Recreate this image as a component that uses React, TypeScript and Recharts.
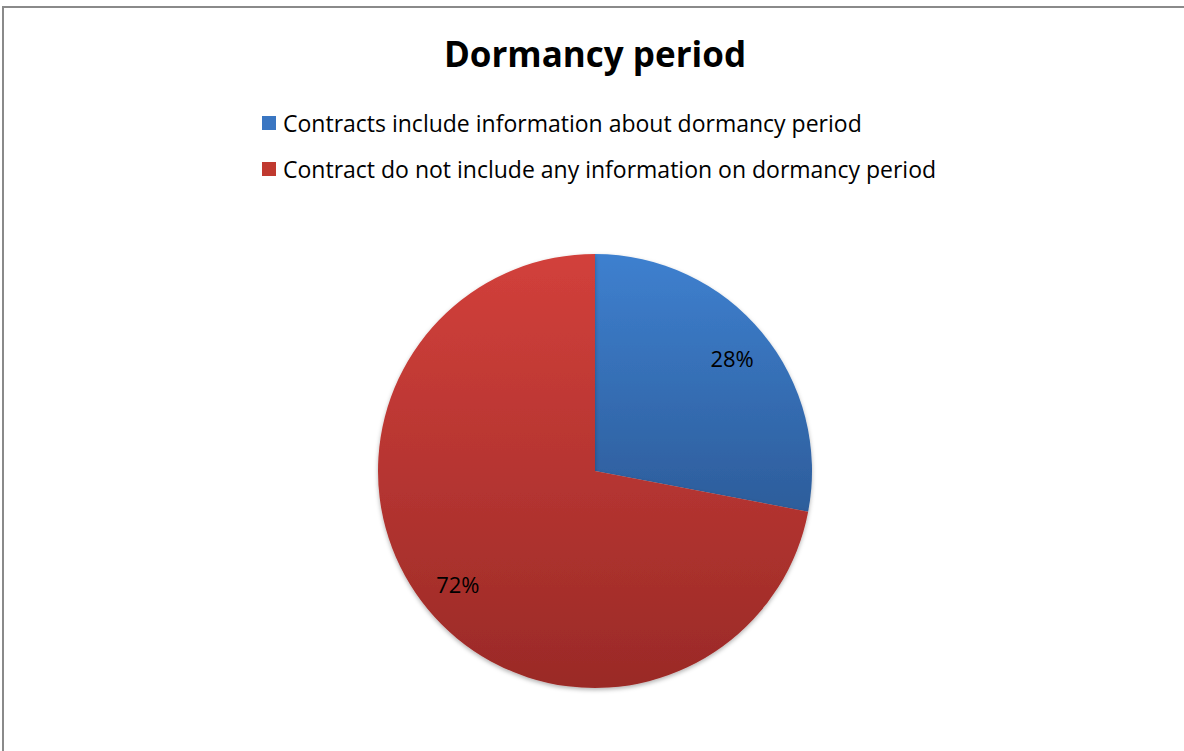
import React from "react";
import { PieChart, Pie, Cell, Legend } from "recharts";

const categories = [
  "Contracts include information about dormancy period",
  "Contract do not include any information on dormancy period",
];
const shares = [28, 72];
const chartTitle = "Dormancy period";

const data = categories.map((name, i) => ({ name, value: shares[i] }));

const gradients = [
  { id: "gradBlue", top: "#3e80cf", bottom: "#2d5d9b", swatch: "#3a76c2" },
  { id: "gradRed", top: "#d2403b", bottom: "#9a2a27", swatch: "#c0392f" },
];

const FONT = "'Open Sans', 'Noto Sans', sans-serif";
const RADIAN = Math.PI / 180;

function renderLabel(props: any) {
  const { cx, cy, midAngle, outerRadius, percent } = props;
  const r = outerRadius * 0.82;
  const x = cx + r * Math.cos(-midAngle * RADIAN);
  const y = cy + r * Math.sin(-midAngle * RADIAN);
  return (
    <text
      x={x}
      y={y}
      fill="#000"
      textAnchor="middle"
      dominantBaseline="central"
      style={{ fontFamily: FONT, fontSize: 22 }}
    >
      {`${Math.round(percent * 100)}%`}
    </text>
  );
}

function renderLegend() {
  return (
    <div style={{ fontFamily: FONT, fontSize: 23, color: "#000" }}>
      {categories.map((c, i) => (
        <div key={c} style={{ display: "flex", alignItems: "center", height: 46 }}>
          <span
            style={{
              display: "inline-block",
              width: 14,
              height: 14,
              background: gradients[i].swatch,
              marginRight: 7,
            }}
          />
          <span>{c}</span>
        </div>
      ))}
    </div>
  );
}

export default function App() {
  return (
    <div
      style={{
        position: "absolute",
        top: 0,
        left: 0,
        width: 1184,
        height: 751,
        background: "#fff",
        overflow: "hidden",
      }}
    >
      <div
        style={{
          position: "absolute",
          top: 6,
          left: 2,
          width: 1200,
          height: 800,
          borderTop: "2px solid #8a8a8a",
          borderLeft: "2px solid #8a8a8a",
        }}
      />
      <div
        style={{
          position: "absolute",
          top: 30,
          left: 0,
          width: 1190,
          textAlign: "center",
          fontFamily: FONT,
          fontWeight: 700,
          fontSize: 35,
          color: "#000",
        }}
      >
        {chartTitle}
      </div>
      <PieChart
        width={1184}
        height={751}
        margin={{ top: 0, right: 0, bottom: 0, left: 0 }}
        style={{ position: "absolute", top: 0, left: 0 }}
      >
        <defs>
          {gradients.map((g) => (
            <linearGradient key={g.id} id={g.id} x1="0" y1="0" x2="0" y2="1">
              <stop offset="0%" stopColor={g.top} />
              <stop offset="100%" stopColor={g.bottom} />
            </linearGradient>
          ))}
          <filter id="pieShadow" x="-10%" y="-10%" width="120%" height="120%">
            <feDropShadow dx="0" dy="2" stdDeviation="2" floodColor="#000" floodOpacity="0.3" />
          </filter>
        </defs>
        <Legend
          content={renderLegend}
          wrapperStyle={{ top: 100, left: 262, width: 800 }}
        />
        <Pie
          data={data}
          dataKey="value"
          nameKey="name"
          cx={595}
          cy={471}
          outerRadius={217}
          startAngle={90}
          endAngle={-270}
          stroke="none"
          label={renderLabel}
          labelLine={false}
          isAnimationActive={false}
          style={{ filter: "url(#pieShadow)" }}
        >
          {data.map((d, i) => (
            <Cell key={d.name} fill={`url(#${gradients[i].id})`} />
          ))}
        </Pie>
      </PieChart>
    </div>
  );
}
